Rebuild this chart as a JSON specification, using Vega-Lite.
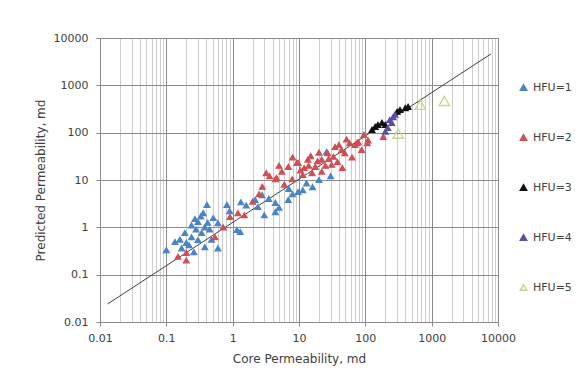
{
  "$schema": "https://vega.github.io/schema/vega-lite/v6.json",
  "autosize": "none",
  "width": 398,
  "height": 284,
  "padding": {"left": 100, "top": 38, "right": 89, "bottom": 58},
  "background": "#ffffff",
  "config": {
    "font": "DejaVu Sans",
    "view": {"stroke": "#a0a0a0", "strokeWidth": 1},
    "axis": {"labelFont": "DejaVu Sans", "labelFontSize": 11, "labelColor": "#404040", "titleFont": "DejaVu Sans", "titleFontSize": 12, "titleFontWeight": "normal", "titleColor": "#404040", "domainColor": "#8c8c8c", "tickColor": "#8c8c8c", "tickSize": 4}
  },
  "datasets": {
    "fit": [{"k": 0.013, "kp": 0.024}, {"k": 7900, "kp": 4640}],
    "pts": [
      {"HFU": "HFU=1", "k": 0.41, "kp": 2.98},
      {"HFU": "HFU=1", "k": 0.82, "kp": 2.98},
      {"HFU": "HFU=1", "k": 1.33, "kp": 3.4},
      {"HFU": "HFU=1", "k": 2.18, "kp": 3.8},
      {"HFU": "HFU=1", "k": 0.51, "kp": 1.58},
      {"HFU": "HFU=1", "k": 0.30, "kp": 1.3},
      {"HFU": "HFU=1", "k": 0.24, "kp": 1.1},
      {"HFU": "HFU=1", "k": 0.38, "kp": 1.0},
      {"HFU": "HFU=1", "k": 0.60, "kp": 1.23},
      {"HFU": "HFU=1", "k": 1.16, "kp": 0.88},
      {"HFU": "HFU=1", "k": 1.3, "kp": 0.8},
      {"HFU": "HFU=1", "k": 0.135, "kp": 0.49},
      {"HFU": "HFU=1", "k": 0.10, "kp": 0.33},
      {"HFU": "HFU=1", "k": 0.20, "kp": 0.47},
      {"HFU": "HFU=1", "k": 0.30, "kp": 0.54},
      {"HFU": "HFU=1", "k": 0.60, "kp": 0.36},
      {"HFU": "HFU=1", "k": 0.38, "kp": 0.38},
      {"HFU": "HFU=1", "k": 0.24, "kp": 0.62},
      {"HFU": "HFU=1", "k": 0.34, "kp": 0.76},
      {"HFU": "HFU=1", "k": 0.45, "kp": 0.9},
      {"HFU": "HFU=1", "k": 0.19, "kp": 0.76},
      {"HFU": "HFU=1", "k": 0.17, "kp": 0.36},
      {"HFU": "HFU=1", "k": 0.27, "kp": 1.5},
      {"HFU": "HFU=1", "k": 0.42, "kp": 1.25},
      {"HFU": "HFU=1", "k": 0.33, "kp": 1.7},
      {"HFU": "HFU=1", "k": 0.28, "kp": 0.9},
      {"HFU": "HFU=1", "k": 0.22, "kp": 0.42},
      {"HFU": "HFU=1", "k": 0.48, "kp": 0.55},
      {"HFU": "HFU=1", "k": 0.36, "kp": 2.0},
      {"HFU": "HFU=1", "k": 0.16, "kp": 0.55},
      {"HFU": "HFU=1", "k": 0.26, "kp": 0.3},
      {"HFU": "HFU=1", "k": 2.77, "kp": 4.8},
      {"HFU": "HFU=1", "k": 4.4, "kp": 3.3},
      {"HFU": "HFU=1", "k": 6.9, "kp": 3.8},
      {"HFU": "HFU=1", "k": 9.7, "kp": 5.6},
      {"HFU": "HFU=1", "k": 11.4, "kp": 6.1},
      {"HFU": "HFU=1", "k": 16, "kp": 7.1},
      {"HFU": "HFU=1", "k": 26, "kp": 39},
      {"HFU": "HFU=1", "k": 2.4, "kp": 2.7},
      {"HFU": "HFU=1", "k": 4.4, "kp": 2.1},
      {"HFU": "HFU=1", "k": 20, "kp": 10},
      {"HFU": "HFU=1", "k": 30, "kp": 12},
      {"HFU": "HFU=1", "k": 8, "kp": 5},
      {"HFU": "HFU=1", "k": 5, "kp": 2.6},
      {"HFU": "HFU=1", "k": 3, "kp": 1.8},
      {"HFU": "HFU=1", "k": 1.6, "kp": 2.9},
      {"HFU": "HFU=1", "k": 0.9, "kp": 2.2},
      {"HFU": "HFU=1", "k": 13, "kp": 8.5},
      {"HFU": "HFU=1", "k": 7, "kp": 6.5},
      {"HFU": "HFU=1", "k": 3.5, "kp": 4},
      {"HFU": "HFU=2", "k": 35, "kp": 50},
      {"HFU": "HFU=2", "k": 70, "kp": 55},
      {"HFU": "HFU=2", "k": 78, "kp": 63},
      {"HFU": "HFU=2", "k": 49, "kp": 37},
      {"HFU": "HFU=2", "k": 22, "kp": 27},
      {"HFU": "HFU=2", "k": 13.6, "kp": 27},
      {"HFU": "HFU=2", "k": 9.7, "kp": 23},
      {"HFU": "HFU=2", "k": 6.9, "kp": 19},
      {"HFU": "HFU=2", "k": 5.5, "kp": 15},
      {"HFU": "HFU=2", "k": 3.6, "kp": 12},
      {"HFU": "HFU=2", "k": 4.4, "kp": 10.4},
      {"HFU": "HFU=2", "k": 31, "kp": 21},
      {"HFU": "HFU=2", "k": 38, "kp": 24},
      {"HFU": "HFU=2", "k": 22, "kp": 15},
      {"HFU": "HFU=2", "k": 15.7, "kp": 14},
      {"HFU": "HFU=2", "k": 11.4, "kp": 12.8},
      {"HFU": "HFU=2", "k": 7.9, "kp": 10.4},
      {"HFU": "HFU=2", "k": 2.8, "kp": 7.2},
      {"HFU": "HFU=2", "k": 63, "kp": 30},
      {"HFU": "HFU=2", "k": 88, "kp": 43},
      {"HFU": "HFU=2", "k": 17.6, "kp": 19},
      {"HFU": "HFU=2", "k": 27, "kp": 37},
      {"HFU": "HFU=2", "k": 45, "kp": 18},
      {"HFU": "HFU=2", "k": 58, "kp": 60},
      {"HFU": "HFU=2", "k": 107, "kp": 60},
      {"HFU": "HFU=2", "k": 0.15, "kp": 0.24},
      {"HFU": "HFU=2", "k": 0.2, "kp": 0.29},
      {"HFU": "HFU=2", "k": 0.2, "kp": 0.2},
      {"HFU": "HFU=2", "k": 0.91, "kp": 1.66},
      {"HFU": "HFU=2", "k": 0.72, "kp": 1.0},
      {"HFU": "HFU=2", "k": 0.54, "kp": 0.62},
      {"HFU": "HFU=2", "k": 1.2, "kp": 2.0},
      {"HFU": "HFU=2", "k": 1.5, "kp": 1.8},
      {"HFU": "HFU=2", "k": 2.0, "kp": 3.5},
      {"HFU": "HFU=2", "k": 2.5, "kp": 5.0},
      {"HFU": "HFU=2", "k": 4.6, "kp": 11},
      {"HFU": "HFU=2", "k": 9.3, "kp": 23},
      {"HFU": "HFU=2", "k": 33, "kp": 31},
      {"HFU": "HFU=2", "k": 75, "kp": 61},
      {"HFU": "HFU=2", "k": 110, "kp": 69},
      {"HFU": "HFU=2", "k": 44, "kp": 43},
      {"HFU": "HFU=2", "k": 12, "kp": 18},
      {"HFU": "HFU=2", "k": 19, "kp": 25},
      {"HFU": "HFU=2", "k": 6, "kp": 8},
      {"HFU": "HFU=2", "k": 25, "kp": 20},
      {"HFU": "HFU=2", "k": 186, "kp": 81},
      {"HFU": "HFU=2", "k": 3.2, "kp": 14},
      {"HFU": "HFU=2", "k": 5, "kp": 20},
      {"HFU": "HFU=2", "k": 8, "kp": 30},
      {"HFU": "HFU=2", "k": 15, "kp": 32},
      {"HFU": "HFU=2", "k": 20, "kp": 38},
      {"HFU": "HFU=2", "k": 40, "kp": 55},
      {"HFU": "HFU=2", "k": 52, "kp": 72},
      {"HFU": "HFU=2", "k": 95, "kp": 90},
      {"HFU": "HFU=2", "k": 10.5, "kp": 16},
      {"HFU": "HFU=2", "k": 14, "kp": 20},
      {"HFU": "HFU=2", "k": 28, "kp": 28},
      {"HFU": "HFU=3", "k": 141, "kp": 133},
      {"HFU": "HFU=3", "k": 178, "kp": 162},
      {"HFU": "HFU=3", "k": 200, "kp": 146},
      {"HFU": "HFU=3", "k": 302, "kp": 277},
      {"HFU": "HFU=3", "k": 400, "kp": 330},
      {"HFU": "HFU=3", "k": 441, "kp": 351},
      {"HFU": "HFU=3", "k": 126, "kp": 115},
      {"HFU": "HFU=3", "k": 155, "kp": 146},
      {"HFU": "HFU=3", "k": 333, "kp": 302},
      {"HFU": "HFU=4", "k": 234, "kp": 186},
      {"HFU": "HFU=4", "k": 250, "kp": 160},
      {"HFU": "HFU=4", "k": 218, "kp": 126},
      {"HFU": "HFU=4", "k": 263, "kp": 214},
      {"HFU": "HFU=4", "k": 200, "kp": 105},
      {"HFU": "HFU=4", "k": 280, "kp": 240},
      {"HFU": "HFU=5", "k": 313, "kp": 95},
      {"HFU": "HFU=5", "k": 676, "kp": 387},
      {"HFU": "HFU=5", "k": 1550, "kp": 468}
    ]
  },
  "encoding": {
    "x": {
      "field": "k", "type": "quantitative",
      "scale": {"type": "log", "domain": [0.01, 10000], "nice": false},
      "title": "Core Permeability, md",
      "axis": {
        "values": [0.01,0.02,0.03,0.04,0.05,0.06,0.07,0.08,0.09,0.1,0.2,0.3,0.4,0.5,0.6,0.7,0.8,0.9,1,2,3,4,5,6,7,8,9,10,20,30,40,50,60,70,80,90,100,200,300,400,500,600,700,800,900,1000,2000,3000,4000,5000,6000,7000,8000,9000,10000],
        "format": "~g",
        "labelExpr": "indexof([0.01,0.1,1,10,100,1000,10000], datum.value) >= 0 ? datum.label : ''",
        "grid": true,
        "gridColor": {"condition": {"test": "indexof([0.01,0.1,1,10,100,1000,10000], datum.value) >= 0", "value": "#8a8a8a"}, "value": "#cdcdcd"},
        "gridWidth": 1,
        "tickOpacity": {"condition": {"test": "indexof([0.01,0.1,1,10,100,1000,10000], datum.value) >= 0", "value": 1}, "value": 0},
        "labelPadding": 6,
        "labelFlush": false,
        "labelOverlap": false,
        "titlePadding": 10
      }
    },
    "y": {
      "field": "kp", "type": "quantitative",
      "scale": {"type": "log", "domain": [0.01, 10000], "nice": false},
      "title": "Predicted Permeability, md",
      "axis": {
        "values": [0.01, 0.1, 1, 10, 100, 1000, 10000],
        "format": "~g",
        "grid": true,
        "gridColor": "#8a8a8a",
        "labelPadding": 8,
        "labelFlush": false,
        "titlePadding": 6
      }
    }
  },
  "layer": [
    {
      "data": {"name": "fit"},
      "mark": {"type": "line", "color": "#404040", "strokeWidth": 1},
      "encoding": {}
    },
    {
      "data": {"name": "pts"},
      "mark": {"type": "point", "shape": "triangle-up", "filled": true, "strokeWidth": 1.3, "opacity": 1},
      "encoding": {
        "fill": {
          "field": "HFU", "type": "nominal",
          "scale": {"domain": ["HFU=1", "HFU=2", "HFU=3", "HFU=4", "HFU=5"], "range": ["#4a84c6", "#cf4f55", "#111111", "#5c4ea6", "rgba(255,255,255,0)"]},
          "legend": {"title": null, "orient": "none", "legendX": 418, "legendY": 44, "rowPadding": 37, "labelFontSize": 11, "labelColor": "#404040", "labelFont": "DejaVu Sans", "symbolSize": 40, "symbolType": "triangle-up"}
        },
        "stroke": {
          "field": "HFU", "type": "nominal",
          "scale": {"domain": ["HFU=1", "HFU=2", "HFU=3", "HFU=4", "HFU=5"], "range": ["#4a84c6", "#cf4f55", "#111111", "#5c4ea6", "#c6d88e"]},
          "legend": {"title": null, "orient": "none", "legendX": 418, "legendY": 44, "rowPadding": 37, "labelFontSize": 11, "labelColor": "#404040", "labelFont": "DejaVu Sans", "symbolSize": 40, "symbolType": "triangle-up"}
        },
        "size": {"condition": {"test": "datum.HFU == 'HFU=5'", "value": 110}, "value": 32}
      }
    }
  ]
}
